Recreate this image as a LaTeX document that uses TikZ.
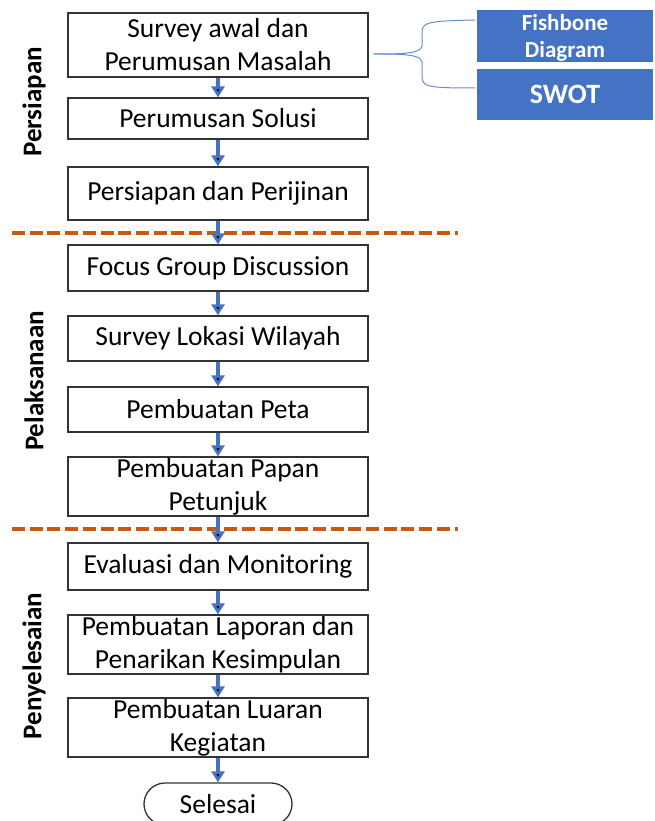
\documentclass[tikz,border=0pt]{standalone}
\usepackage{fontspec}
\setmainfont{Carlito}
\usepackage{tikz}
\usetikzlibrary{shapes,arrows.meta}
\definecolor{flowblue}{HTML}{4472C4}
\definecolor{phaseorange}{HTML}{C55A11}

\begin{document}
\begin{tikzpicture}[x=1pt,y=-1pt,
  stepbox/.style={draw=black!80,line width=1.3pt,minimum width=300pt,inner sep=0pt,align=center,font=\fontsize{27.5}{33}\selectfont},
  toolbox/.style={fill=flowblue,text=white,minimum width=176pt,inner sep=0pt,align=center,font=\bfseries},
  phase/.style={rotate=90,font=\fontsize{27}{32}\selectfont\bfseries},
  flow/.style={draw=flowblue,line width=4pt,-{Triangle[width=13pt,length=11pt]}},
  sep/.style={draw=phaseorange,line width=4.5pt,dash pattern=on 13pt off 4.7pt},
  bracel/.style={draw=flowblue!80,line width=1pt}]
\useasboundingbox (0,0) rectangle (654,821);
% phase labels
\node[phase] (ph1) at (34,102) {Persiapan};
\node[phase] (ph2) at (34,381) {Pelaksanaan};
\node[phase] (ph3) at (34,666) {Penyelesaian};
% steps
\node[stepbox,minimum height=64pt] (b1) at (218,45) {Survey awal dan\\Perumusan Masalah};
\node[stepbox,minimum height=41pt] (b2) at (218,118.5) {Perumusan Solusi};
\node[stepbox,minimum height=53pt] (b3) at (218,193.5) {Persiapan dan Perijinan};
\node[stepbox,minimum height=46pt] (b4) at (218,268) {Focus Group Discussion};
\node[stepbox,minimum height=45pt] (b5) at (218,338.5) {Survey Lokasi Wilayah};
\node[stepbox,minimum height=45pt] (b6) at (218,409.5) {Pembuatan Peta};
\node[stepbox,minimum height=59pt] (b7) at (218,486.5) {Pembuatan Papan\\Petunjuk};
\node[stepbox,minimum height=47pt] (b8) at (218,566.5) {Evaluasi dan Monitoring};
\node[stepbox,minimum height=59pt] (b9) at (218,644.5) {Pembuatan Laporan dan\\Penarikan Kesimpulan};
\node[stepbox,minimum height=59pt] (b10) at (218,727.5) {Pembuatan Luaran\\Kegiatan};
\node[stepbox,minimum width=148pt,minimum height=42pt,rounded corners=21pt] (end) at (218,804) {Selesai};
% tools
\node[toolbox,minimum height=52pt,text depth=0pt,font=\fontsize{23}{27}\selectfont\bfseries] (fish) at (565,36) {Fishbone\\Diagram};
\node[toolbox,minimum height=51pt,font=\fontsize{28}{32}\selectfont\bfseries] (swot) at (565,94.5) {SWOT};
\coordinate (armtop) at (475,20);
\coordinate (armbot) at (475,88);
\draw[bracel] ([xshift=5pt,yshift=-9pt]b1.east) .. controls (400,54) and (421,54) .. (422,46) -- (422,31) .. controls (423,22) and (430,21) .. (armtop);
\draw[bracel] ([xshift=5pt,yshift=-9pt]b1.east) .. controls (400,54) and (421,54) .. (422,62) -- (422,78) .. controls (423,87) and (430,88) .. (armbot);
% phase separators
\coordinate (s1l) at (12,233);
\coordinate (s1r) at (458,233);
\coordinate (s2l) at (12,529);
\coordinate (s2r) at (458,529);
\draw[sep] (s1l) -- (s1r);
\draw[sep] (s2l) -- (s2r);
% arrows
\path[flow] (b1) edge (b2)
(b2) edge (b3)
(b3) edge (b4)
(b4) edge (b5)
(b5) edge (b6)
(b6) edge (b7)
(b7) edge (b8)
(b8) edge (b9)
(b9) edge (b10)
(b10) edge (end);
\end{tikzpicture}
\end{document}
